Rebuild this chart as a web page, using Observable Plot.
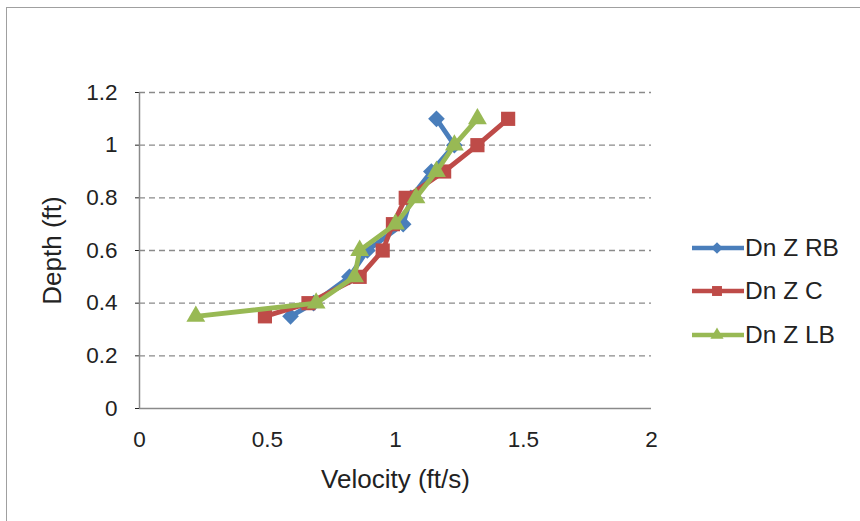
<!DOCTYPE html>
<html>
<head>
<meta charset="utf-8">
<script src="https://cdn.jsdelivr.net/npm/d3@7"></script>
<script src="https://cdn.jsdelivr.net/npm/@observablehq/plot@0.6"></script>
<style>
  html, body { margin: 0; padding: 0; background: #fff; overflow: hidden; }
  #wrap { position: relative; width: 860px; height: 521px; font-family: "Liberation Sans", Arial, sans-serif; }
  #frame { position: absolute; left: 6px; top: 7px; width: 900px; height: 600px; border: 1.5px solid #a0a0a0; box-sizing: border-box; }
  #chart { position: absolute; left: 0; top: 0; }
  #legend { position: absolute; left: 690px; top: 226px; font-size: 24.5px; color: #222; }
  #legend .row { display: flex; align-items: center; height: 43.5px; }
  #legend svg { margin-right: 1px; }
</style>
</head>
<body>
<div id="wrap">
  <div id="frame"></div>
  <div id="chart"></div>
  <div id="legend"></div>
</div>
<script>
// Depth of each measurement (ft)
const depth = [0.35, 0.4, 0.5, 0.6, 0.7, 0.8, 0.9, 1.0, 1.1];

// Velocity profiles (ft/s) at the three downstream stations
const velRB = [0.59, 0.68, 0.82, 0.89, 1.03, 1.06, 1.14, 1.23, 1.16];
const velC  = [0.49, 0.66, 0.86, 0.95, 0.99, 1.04, 1.19, 1.32, 1.44];
const velLB = [0.22, 0.69, 0.84, 0.86, 1.00, 1.08, 1.16, 1.23, 1.32];

const seriesNames = ["Dn Z RB", "Dn Z C", "Dn Z LB"];
const seriesColors = ["#4a7ebb", "#be4b48", "#98b954"];
const seriesSymbols = ["diamond2", "square", "triangle2"];
const seriesSizes = [7.5, 8, 9];

const xTicks = [0, 0.5, 1, 1.5, 2];
const yTicks = [0, 0.2, 0.4, 0.6, 0.8, 1.0, 1.2];

const allSeries = [velRB, velC, velLB].map((vel, i) =>
  depth.map((d, j) => ({series: seriesNames[i], depth: d, velocity: vel[j]}))
);

const marks = [
  Plot.ruleY(yTicks.filter(t => t > 0), {stroke: "#8a8a8a", strokeWidth: 1.3, strokeDasharray: "6,4"}),
  Plot.ruleY([0], {stroke: "#8a8a8a", strokeWidth: 1.5}),
  Plot.ruleX([0], {stroke: "#8a8a8a", strokeWidth: 1.5})
];
allSeries.forEach((rows, i) => {
  marks.push(Plot.line(rows, {x: "velocity", y: "depth", stroke: seriesColors[i], strokeWidth: 4.8, curve: "linear"}));
  marks.push(Plot.dot(rows, {x: "velocity", y: "depth", fill: seriesColors[i], stroke: "none", symbol: seriesSymbols[i], r: seriesSizes[i]}));
});

const chart = Plot.plot({
  width: 860,
  height: 521,
  marginLeft: 139,
  marginRight: 209,
  marginTop: 92,
  marginBottom: 113,
  style: {fontFamily: "'Liberation Sans', Arial, sans-serif", fontSize: "22.5px", color: "#222", background: "transparent"},
  x: {domain: [0, 2], ticks: xTicks, tickFormat: d => String(d), tickSize: 0, tickPadding: 23,
      label: "Velocity (ft/s)", labelAnchor: "center", labelOffset: 79, labelArrow: "none"},
  y: {domain: [0, 1.2], ticks: yTicks, tickFormat: d => String(+d.toFixed(1)), tickSize: 4, tickPadding: 18,
      label: "Depth (ft)", labelAnchor: "center", labelOffset: 97, labelArrow: "none"},
  marks
});
// Axis titles are set a little larger than the tick labels
d3.select(chart).selectAll("[aria-label='x-axis label'] text, [aria-label='y-axis label'] text")
  .style("font-size", "26px");
document.getElementById("chart").appendChild(chart);

// Legend: line with marker, then series name
const legend = d3.select("#legend");
const symMap = {diamond2: d3.symbolDiamond2, square: d3.symbolSquare, triangle2: d3.symbolTriangle2};
seriesNames.forEach((name, i) => {
  const row = legend.append("div").attr("class", "row");
  const svg = row.append("svg").attr("width", 54).attr("height", 20);
  svg.append("line").attr("x1", 2).attr("x2", 54).attr("y1", 10).attr("y2", 10)
    .attr("stroke", seriesColors[i]).attr("stroke-width", 4.5);
  const r = seriesSizes[i] * 0.7;
  svg.append("path").attr("transform", "translate(27,10)")
    .attr("d", d3.symbol(symMap[seriesSymbols[i]], Math.PI * r * r)())
    .attr("fill", seriesColors[i]);
  row.append("span").text(name);
});
</script>
</body>
</html>
